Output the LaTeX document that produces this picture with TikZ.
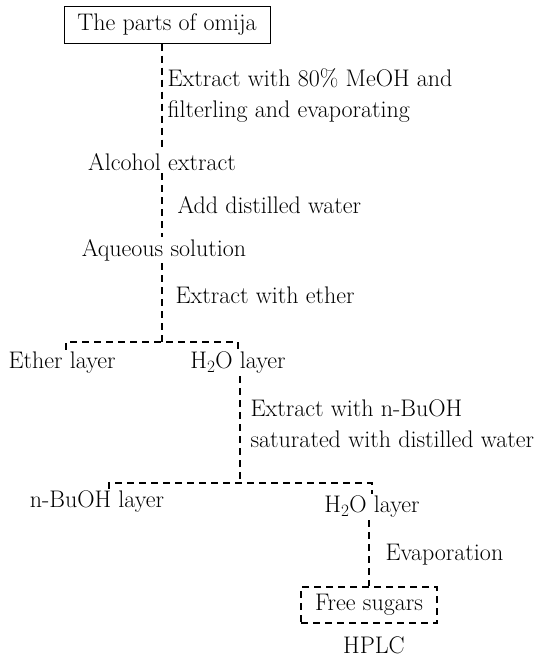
\documentclass[tikz,border=0pt]{standalone}
\usepackage{fontspec}

\begin{document}
\begin{tikzpicture}[x=1pt,y=-1pt,line width=1.2pt,
  txt/.style={anchor=center,inner sep=2pt,font=\fontsize{24}{31}\selectfont},
  note/.style={anchor=west,inner sep=0pt,align=left,font=\fontsize{24}{31}\selectfont},
  flow/.style={dash pattern=on 7pt off 5pt}]
\path[use as bounding box] (0,0) rectangle (539,657);
\node[txt,draw,line width=1pt,minimum width=206pt,minimum height=37pt] (parts) at (167,24.5) {The parts of omija};
\node[txt] (alc) at (162,162) {Alcohol extract};
\node[txt] (aq) at (164,250) {Aqueous solution};
\node[txt] (ether) at (62,363) {Ether layer};
\node[txt] (wat1) at (238,363) {H$_2$O layer};
\node[txt] (buoh) at (97,502) {n-BuOH layer};
\node[txt] (wat2) at (372,507) {H$_2$O layer};
\node[txt,draw,flow,minimum width=136pt,minimum height=36pt] (sugar) at (369,605) {Free sugars};
\node[txt,inner sep=0pt] (hplc) at (374,645) {HPLC};
% step labels
\node[note] (ext1) at (167,95) {Extract with 80\% MeOH and\\filterling and evaporating};
\node[note] (add) at (177,205) {Add distilled water};
\node[note] (ext2) at (175,295) {Extract with ether};
\node[note] (ext3) at (250,424) {Extract with n-BuOH\\saturated with distilled water};
\node[note] (evap) at (385,555) {Evaporation};
% connectors
\coordinate (fork1) at (162,342);
\coordinate (fork2) at (240,483);
\draw[flow] (parts.south -| alc.north) -- (alc.north);
\draw[flow] (alc.south) -- (alc.south |- aq.north);
\draw[flow] (aq.south -| fork1) -- (fork1);
\draw[flow] ([xshift=4pt]ether.north) |- (fork1) -| (wat1.north);
\draw[flow] (wat1.south -| fork2) -- (fork2);
\draw[flow] ([xshift=12pt]buoh.north) |- (fork2) -| (wat2.north);
\draw[flow] (wat2.south -| sugar.north) -- (sugar.north);
\end{tikzpicture}
\end{document}
